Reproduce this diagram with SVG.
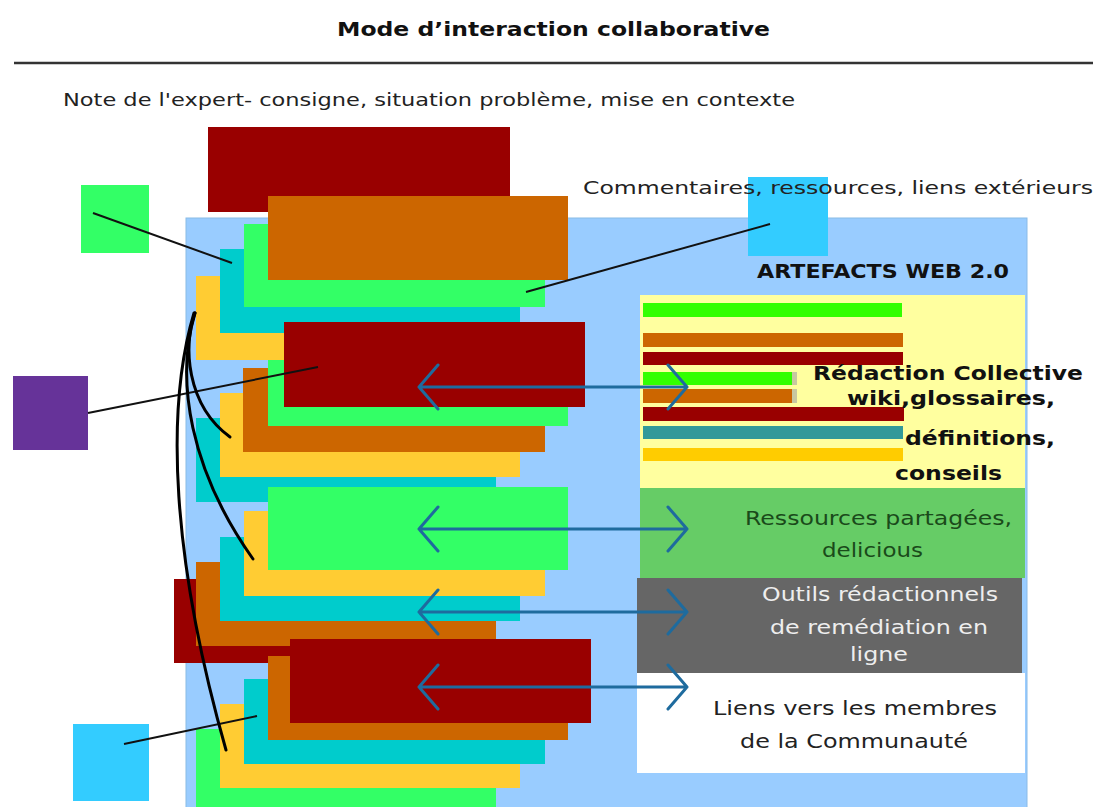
<svg xmlns="http://www.w3.org/2000/svg" width="1098" height="807" viewBox="0 0 1098 807">
<style>
text{font-family:"DejaVu Sans","Liberation Sans",sans-serif;}
.b{font-weight:bold;}
.red{fill:#990000;}
.ora{fill:#CC6600;}
.grn{fill:#33FF66;}
.cya{fill:#00CCCC;}
.yel{fill:#FFCC33;}
.sq{fill:#33CCFF;}
.ln{stroke:#111;stroke-width:2;fill:none;}
.cv{stroke:#000;stroke-width:3;fill:none;stroke-linecap:round;}
.ar{stroke:#1E6B9E;stroke-width:3;fill:none;stroke-linecap:round;stroke-linejoin:round;}
</style>
<rect width="1098" height="807" fill="#ffffff"/>
<g id="header">
<text class="b" x="337" y="36" font-size="20" fill="#111" textLength="433" lengthAdjust="spacingAndGlyphs">Mode d’interaction collaborative</text>
<line x1="14" y1="63" x2="1093" y2="63" stroke="#333" stroke-width="2.5"/>
<text x="63" y="106" font-size="18" fill="#222" textLength="732" lengthAdjust="spacingAndGlyphs">Note de l'expert- consigne, situation problème, mise en contexte</text>
</g>
<g id="expert-note">
<rect class="red" x="208" y="127" width="302" height="85"/>
</g>
<g id="side-square-green"><rect x="81" y="185" width="68" height="68" fill="#33FF66"/></g>
<g id="side-square-purple"><rect x="13" y="376" width="75" height="74" fill="#663399"/></g>
<g id="side-square-blue"><rect class="sq" x="73" y="724" width="76" height="77"/></g>
<g id="workspace">
<rect x="186" y="218" width="841" height="600" fill="#99CCFF" stroke="#8ABBE6" stroke-width="1"/>
</g>
<g id="comment-label">
<rect class="sq" x="748" y="177" width="80" height="79"/>
<text x="583" y="194" font-size="18" fill="#222" textLength="510" lengthAdjust="spacingAndGlyphs">Commentaires, ressources, liens extérieurs</text>
</g>
<g id="stack-1">
<rect class="yel" x="196" y="276" width="301" height="84"/>
<rect class="cya" x="220" y="249" width="300" height="84"/>
<rect class="grn" x="244" y="224" width="301" height="83"/>
<rect class="ora" x="268" y="196" width="300" height="84"/>
</g>
<g id="stack-2">
<rect class="cya" x="196" y="418" width="300" height="84"/>
<rect class="yel" x="220" y="393" width="300" height="84"/>
<rect class="ora" x="243" y="368" width="302" height="84"/>
<rect class="grn" x="268" y="360" width="300" height="66"/>
<rect class="red" x="284" y="322" width="301" height="85"/>
</g>
<g id="stack-3">
<rect class="red" x="174" y="579" width="300" height="84"/>
<rect class="ora" x="196" y="562" width="300" height="84"/>
<rect class="cya" x="220" y="537" width="300" height="84"/>
<rect class="yel" x="244" y="511" width="301" height="85"/>
<rect class="grn" x="268" y="487" width="300" height="83"/>
</g>
<g id="stack-4">
<rect class="grn" x="196" y="729" width="300" height="84"/>
<rect class="yel" x="220" y="704" width="300" height="84"/>
<rect class="cya" x="244" y="679" width="301" height="85"/>
<rect class="ora" x="268" y="656" width="300" height="84"/>
<rect class="red" x="290" y="639" width="301" height="84"/>
</g>
<g id="artefacts-title">
<text class="b" x="757" y="278" font-size="19" fill="#111" textLength="252" lengthAdjust="spacingAndGlyphs">ARTEFACTS WEB 2.0</text>
</g>
<g id="panel-redaction">
<rect x="640" y="295" width="385" height="193" fill="#FFFF9F"/>
<rect x="643" y="303" width="259" height="14" fill="#33FF00"/>
<rect x="643" y="333" width="260" height="14" fill="#CC6600"/>
<rect x="643" y="352" width="260" height="13" fill="#990000"/>
<rect x="643" y="372" width="149" height="13" fill="#33FF00"/>
<rect x="792" y="372" width="5" height="13" fill="#c8c8a0"/>
<rect x="643" y="389" width="149" height="14" fill="#CC6600"/>
<rect x="792" y="389" width="5" height="14" fill="#c8c8a0"/>
<rect x="643" y="407" width="261" height="14" fill="#990000"/>
<rect x="643" y="426" width="260" height="13" fill="#339999"/>
<rect x="643" y="448" width="260" height="13" fill="#FFCC00"/>
<text class="b" x="813" y="380" font-size="20" fill="#111" textLength="270" lengthAdjust="spacingAndGlyphs">Rédaction Collective</text>
<text class="b" x="847" y="405" font-size="20" fill="#111" textLength="208" lengthAdjust="spacingAndGlyphs">wiki,glossaires,</text>
<text class="b" x="905" y="445" font-size="20" fill="#111" textLength="150" lengthAdjust="spacingAndGlyphs">définitions,</text>
<text class="b" x="895" y="480" font-size="20" fill="#111" textLength="107" lengthAdjust="spacingAndGlyphs">conseils</text>
</g>
<g id="panel-ressources">
<rect x="640" y="488" width="385" height="90" fill="#66CC66"/>
<text x="745" y="525" font-size="19" fill="#1A4A1A" textLength="267" lengthAdjust="spacingAndGlyphs">Ressources partagées,</text>
<text x="822" y="557" font-size="19" fill="#1A4A1A" textLength="101" lengthAdjust="spacingAndGlyphs">delicious</text>
</g>
<g id="panel-outils">
<rect x="637" y="578" width="385" height="95" fill="#666666"/>
<text x="762" y="601" font-size="19" fill="#EEEEEE" textLength="236" lengthAdjust="spacingAndGlyphs">Outils rédactionnels</text>
<text x="770" y="634" font-size="19" fill="#EEEEEE" textLength="218" lengthAdjust="spacingAndGlyphs">de remédiation en</text>
<text x="850" y="661" font-size="19" fill="#EEEEEE" textLength="58" lengthAdjust="spacingAndGlyphs">ligne</text>
</g>
<g id="panel-liens">
<rect x="637" y="673" width="388" height="100" fill="#FFFFFF"/>
<text x="713" y="715" font-size="19" fill="#222" textLength="284" lengthAdjust="spacingAndGlyphs">Liens vers les membres</text>
<text x="740" y="748" font-size="19" fill="#222" textLength="228" lengthAdjust="spacingAndGlyphs">de la Communauté</text>
</g>
<g id="connectors">
<line class="ln" x1="93" y1="213" x2="232" y2="263"/>
<line class="ln" x1="526" y1="292" x2="770" y2="224"/>
<line class="ln" x1="88" y1="413" x2="318" y2="367"/>
<line class="ln" x1="124" y1="744" x2="257" y2="716"/>
<path class="cv" d="M195,313 C183,345 186,405 230,437"/>
<path class="cv" d="M195,313 C175,380 190,470 253,559"/>
<path class="cv" d="M194,313 C165,410 172,560 226,750"/>
<g class="ar">
<path d="M419,387 H687 M438,365 L419,387 L438,409 M668,365 L687,387 L668,409"/>
<path d="M419,529 H687 M438,507 L419,529 L438,551 M668,507 L687,529 L668,551"/>
<path d="M419,612 H687 M438,590 L419,612 L438,634 M668,590 L687,612 L668,634"/>
<path d="M419,687 H687 M438,665 L419,687 L438,709 M668,665 L687,687 L668,709"/>
</g>
</g>
</svg>
